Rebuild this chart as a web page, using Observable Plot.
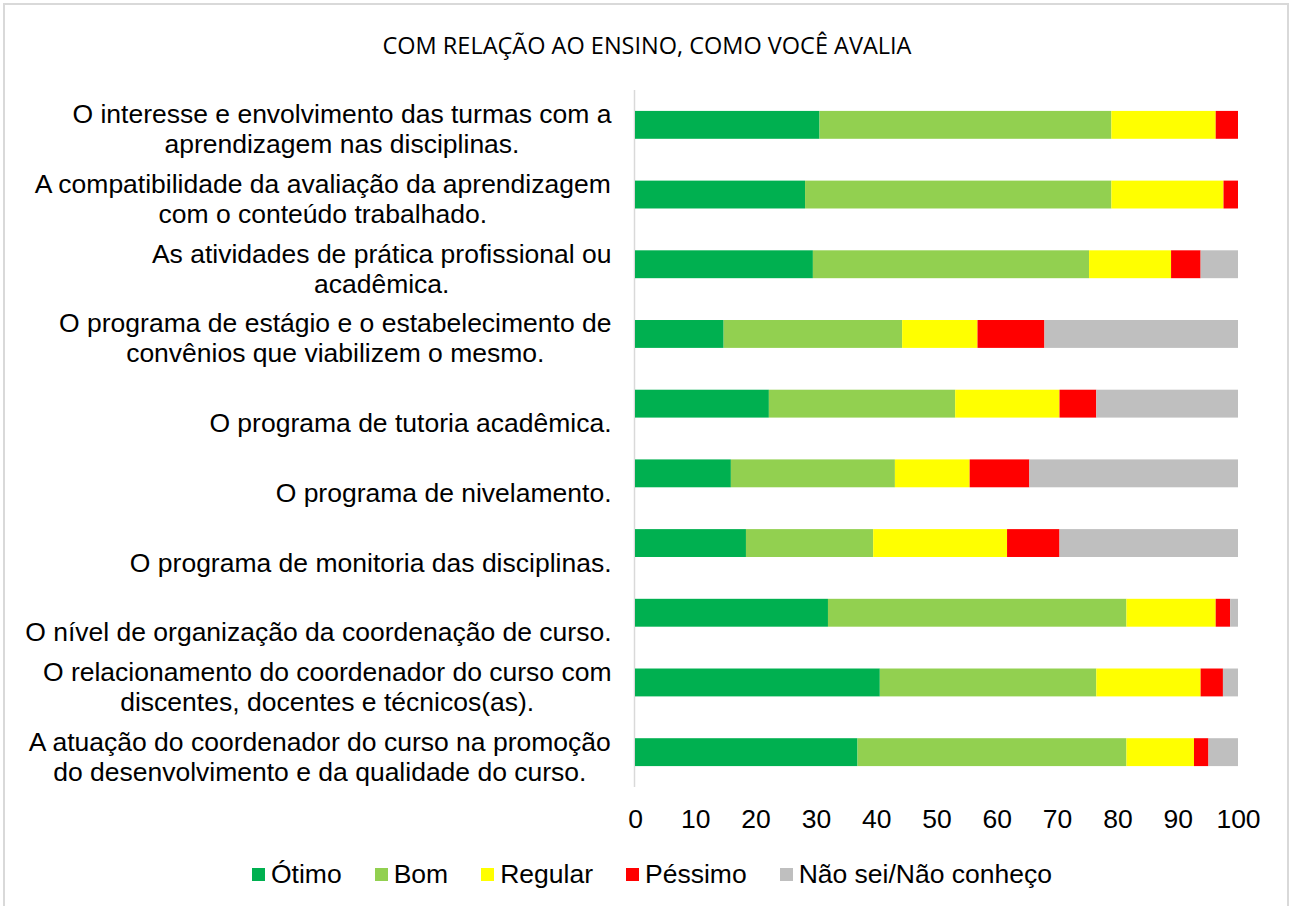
<!DOCTYPE html>
<html>
<head>
<meta charset="utf-8">
<script src="https://cdn.jsdelivr.net/npm/d3@7"></script>
<script src="https://cdn.jsdelivr.net/npm/@observablehq/plot@0.6"></script>
<style>
  html, body { margin: 0; padding: 0; background: #fff; }
  body { width: 1290px; height: 906px; overflow: hidden; position: relative; font-family: "Liberation Sans", Arial, sans-serif; }
  #frame { position: absolute; left: 3px; top: 3px; width: 1286px; height: 930px; border: 2px solid #d9d9d9; box-sizing: border-box; }
  #title { position: absolute; left: 4px; width: 1286px; top: 34px; text-align: center; font-family: "Open Sans", sans-serif; font-size: 23.5px; line-height: 23.5px; color: #000; white-space: nowrap; }
  #chart { position: absolute; left: 0; top: 0; }
  #legend { position: absolute; left: 252px; top: 859px; height: 30px; display: flex; align-items: center; font-family: "Liberation Sans", Arial, sans-serif; font-size: 26.5px; line-height: 30px; color: #000; white-space: nowrap; }
  #legend .item { display: flex; align-items: center; margin-right: 33px; }
  #legend .sw { width: 13px; height: 13px; margin-right: 6px; display: inline-block; }
</style>
</head>
<body>
<div id="frame"></div>
<div id="title"></div>
<div id="chart"></div>
<div id="legend"></div>
<script>
const titleText = "COM RELAÇÃO AO ENSINO, COMO VOCÊ AVALIA";

const categories = [
  "O interesse e envolvimento das turmas com a\naprendizagem nas disciplinas.",
  "A compatibilidade da avaliação da aprendizagem\ncom o conteúdo trabalhado.",
  "As atividades de prática profissional ou\nacadêmica.",
  "O programa de estágio e o estabelecimento de\nconvênios que viabilizem o mesmo.",
  "O programa de tutoria acadêmica.",
  "O programa de nivelamento.",
  "O programa de monitoria das disciplinas.",
  "O nível de organização da coordenação de curso.",
  "O relacionamento do coordenador do curso com\ndiscentes, docentes e técnicos(as).",
  "A atuação do coordenador do curso na promoção\ndo desenvolvimento e da qualidade do curso."
];

const series = ["Ótimo", "Bom", "Regular", "Péssimo", "Não sei/Não conheço"];
const colors = ["#00b050", "#92d050", "#ffff00", "#ff0000", "#bfbfbf"];

const otimo   = [30.6, 28.2, 29.5, 14.7, 22.2, 15.9, 18.4, 32.0, 40.6, 36.9];
const bom     = [48.4, 50.8, 45.8, 29.6, 30.9, 27.2, 21.1, 49.5, 35.9, 44.6];
const regular = [17.3, 18.6, 13.6, 12.5, 17.3, 12.4, 22.2, 14.8, 17.3, 11.2];
const pessimo = [ 3.7,  2.4,  4.9, 11.1,  6.1,  9.9,  8.7,  2.4,  3.7,  2.4];
const naoSei  = [ 0.0,  0.0,  6.2, 32.1, 23.5, 34.6, 29.6,  1.3,  2.5,  4.9];

const xTicks = [0, 10, 20, 30, 40, 50, 60, 70, 80, 90, 100];

// build long table
const valuesBySeries = [otimo, bom, regular, pessimo, naoSei];
const table = [];
series.forEach((s, si) => {
  categories.forEach((c, ci) => {
    table.push({category: c, series: s, value: valuesBySeries[si][ci]});
  });
});

const FS = 26.5;
const FONT = '"Liberation Sans", Arial, sans-serif';
const ctx = document.createElement("canvas").getContext("2d");
ctx.font = `${FS}px "Liberation Sans"`;

const labelMarks = categories.map(c => {
  const w = d3.max(c.split("\n"), l => ctx.measureText(l).width);
  return Plot.text([c], {
    y: d => d,
    text: d => d,
    frameAnchor: "left",
    textAnchor: "middle",
    lineAnchor: "bottom",
    lineHeight: 30 / FS,
    dx: -(24 + w / 2),
    dy: 28,
    fontSize: FS,
    fontFamily: FONT,
    fill: "#000"
  });
});

const chart = Plot.plot({
  width: 1290,
  height: 845,
  marginLeft: 635,
  marginRight: 52,
  marginTop: 90,
  marginBottom: 58,
  style: {fontFamily: FONT, fontSize: FS + "px", color: "#000", background: "transparent", overflow: "visible"},
  x: {domain: [0, 100], axis: null},
  y: {domain: categories, paddingInner: 0.6, paddingOuter: 0.3, round: false, axis: null},
  color: {domain: series, range: colors},
  marks: [
    Plot.ruleX([0], {stroke: "#d9d9d9", strokeWidth: 1.5, dx: -1}),
    Plot.barX(table, Plot.stackX({x: "value", y: "category", fill: "series", order: null})),
    Plot.axisX({ticks: xTicks, tickSize: 0, tickPadding: 22, fontSize: FS, fontFamily: FONT, anchor: "bottom", label: null, fill: "#000"}),
    ...labelMarks
  ]
});
document.getElementById("chart").appendChild(chart);

document.getElementById("title").textContent = titleText;

const legend = document.getElementById("legend");
series.forEach((s, i) => {
  const item = document.createElement("span");
  item.className = "item";
  const sw = document.createElement("span");
  sw.className = "sw";
  sw.style.background = colors[i];
  const t = document.createElement("span");
  t.textContent = s;
  item.appendChild(sw);
  item.appendChild(t);
  legend.appendChild(item);
});
</script>
</body>
</html>
